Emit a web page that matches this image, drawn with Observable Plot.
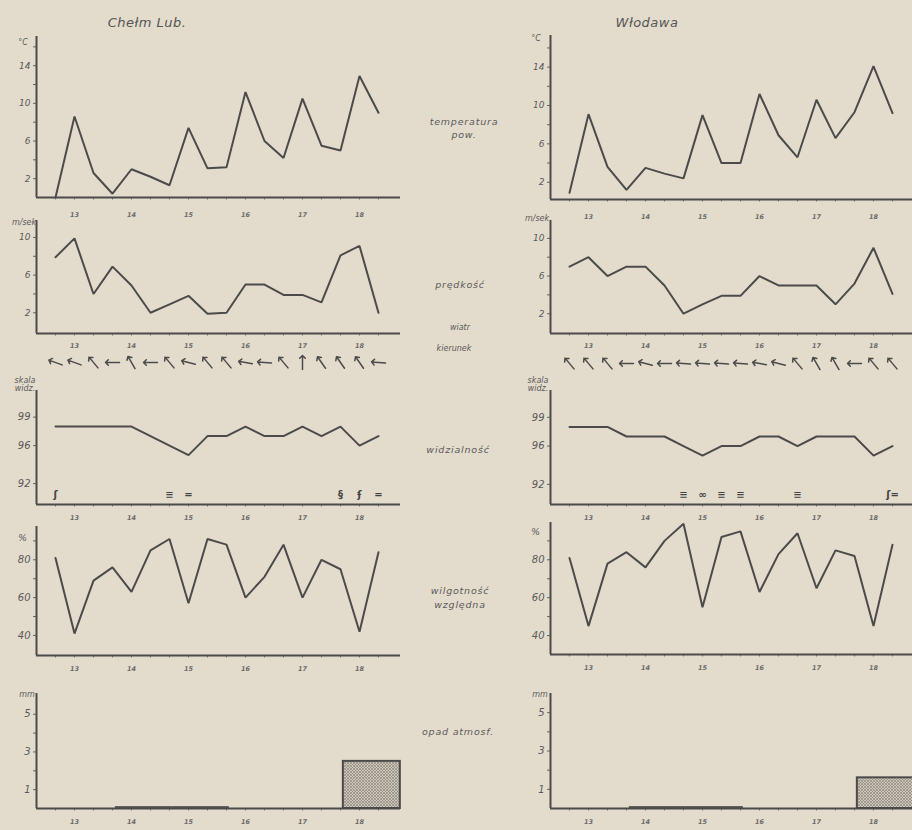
<!DOCTYPE html>
<html><head><meta charset="utf-8">
<script src="https://cdn.jsdelivr.net/npm/d3@7"></script>
<script src="https://cdn.jsdelivr.net/npm/@observablehq/plot@0.6"></script>
<style>
html,body{margin:0;padding:0;background:#e3dccc;overflow:hidden;}
#fig{position:relative;width:912px;height:830px;background:#e3dccc;font-family:"DejaVu Sans",sans-serif;color:#555;overflow:hidden;}
.lbl{position:absolute;font-style:italic;font-size:9.5px;color:#5a5a5a;transform:translate(-50%,-50%);white-space:nowrap;letter-spacing:0.8px;}
.ttl{font-size:13px;letter-spacing:0.5px;color:#555;}
.unit{font-size:8px;letter-spacing:0;}
</style></head><body><div id="fig"></div>
<script>
// ---------------- data ----------------
const days = [13, 14, 15, 16, 17, 18];
// observations 7h, 13h, 21h for each day (18 per station)
const tempChelm   = [0, 8.6, 2.6, 0.4, 3.0, 2.2, 1.3, 7.4, 3.1, 3.2, 11.2, 6.0, 4.2, 10.5, 5.5, 5.0, 12.9, 9.0];
const tempWlodawa = [0.9, 9.1, 3.6, 1.2, 3.5, 2.9, 2.4, 9.0, 4.0, 4.0, 11.2, 6.9, 4.6, 10.6, 6.6, 9.3, 14.1, 9.2];
const windChelm   = [7.9, 9.9, 4.0, 6.9, 4.9, 2.0, 2.9, 3.8, 1.9, 2.0, 5.0, 5.0, 3.9, 3.9, 3.1, 8.1, 9.1, 2.0];
const windWlodawa = [7.0, 8.0, 6.0, 7.0, 7.0, 5.0, 2.0, 3.0, 3.9, 3.9, 6.0, 5.0, 5.0, 5.0, 3.0, 5.2, 9.0, 4.1];
// wind arrow direction (degrees, 0 = arrow pointing up, clockwise)
const dirChelm    = [-70, -70, -40, -90, -30, -90, -40, -75, -40, -40, -80, -85, -40, 0, -35, -35, -35, -85];
const dirWlodawa  = [-40, -40, -40, -90, -75, -90, -85, -85, -85, -85, -80, -75, -40, -30, -30, -90, -40, -40];
const visChelm    = [98, 98, 98, 98, 98, 97, 96, 95, 97, 97, 98, 97, 97, 98, 97, 98, 96, 97];
const visWlodawa  = [98, 98, 98, 97, 97, 97, 96, 95, 96, 96, 97, 97, 96, 97, 97, 97, 95, 96];
const humChelm    = [81, 41, 69, 76, 63, 85, 91, 57, 91, 88, 60, 71, 88, 60, 80, 75, 42, 84];
const humWlodawa  = [81, 45, 78, 84, 76, 90, 99, 55, 92, 95, 63, 83, 94, 65, 85, 82, 45, 88];
const precipDaysChelm = [18];
const precipChelm     = [2.5];
const precipDaysWlodawa = [18];
const precipWlodawa     = [1.6];
const traceDaysChelm   = [14, 15];
const traceDaysWlodawa = [14, 15];
// weather symbols at bottom of visibility panel
const symObsChelm   = [0, 6, 7, 15, 16, 17];
const symChelm      = ["ʃ", "≡", "=", "§", "ʄ", "="];
const symObsWlodawa = [6, 7, 8, 9, 12, 17];
const symWlodawa    = ["≡", "∞", "≡", "≡", "≡", "ʃ="];
// axis ticks
const tempTicks = [2, 6, 10, 14], tempMinor = [4, 8, 12, 16];
const windTicks = [2, 6, 10], windMinor = [4, 8];
const visTicks = [92, 96, 99];
const humTicks = [40, 60, 80], humMinor = [50, 70, 90];
const precipTicks = [1, 3, 5], precipMinor = [2, 4];

// ---------------- helpers ----------------
const fig = document.getElementById("fig");
const INK = "#4b4b4b";
const obsIdx = d3.range(18);
const xDomain = [-1, 18.158];
const dayX = d => (d - 13) * 3 + 1;

function series(values) { return values.map((v, i) => ({i, v})); }

function label(text, x, y, cls = "") {
  const el = document.createElement("div");
  el.className = "lbl " + cls;
  el.textContent = text;
  el.style.left = x + "px";
  el.style.top = y + "px";
  fig.appendChild(el);
}

function panel({left, top, bottom, domain, ticks, minor = [], dayDy = 15, marks = [], mt = 14, mb = 26, tickFont = 9}) {
  const h = mt + (bottom - top) + mb;
  const all = [...ticks, ...minor].sort((a, b) => a - b);
  const svg = Plot.plot({
    width: 400, height: h,
    marginLeft: 36, marginRight: 0, marginTop: mt, marginBottom: mb,
    x: {domain: xDomain},
    y: {domain},
    style: {background: "transparent", overflow: "visible", fontFamily: "DejaVu Sans, sans-serif"},
    marks: [
      ...marks,
      Plot.axisY(all, {tickSize: 3, tickPadding: 3, label: null, stroke: "#666", fill: "#5a5a5a",
        fontSize: tickFont, fontStyle: "italic",
        tickFormat: d => ticks.includes(d) ? String(d) : ""}),
      Plot.axisX(obsIdx, {tickSize: 2.5, tickPadding: 0, label: null, stroke: "#777", tickFormat: () => ""}),
      Plot.ruleX([xDomain[0]], {stroke: INK, strokeWidth: 2}),
      Plot.ruleY([domain[0]], {stroke: INK, strokeWidth: 2}),
      Plot.text(days, {x: dayX, text: d => String(d), frameAnchor: "bottom", dy: dayDy,
        fontSize: 6.5, fill: "#6a6a6a", fontStyle: "italic", fontWeight: "bold"})
    ]
  });
  svg.style.position = "absolute";
  svg.style.left = left + "px";
  svg.style.top = (top - mt) + "px";
  fig.appendChild(svg);
  return svg;
}

function lineMark(values) {
  return Plot.line(series(values), {x: "i", y: "v", stroke: INK, strokeWidth: 2, strokeLinejoin: "miter"});
}

function addHatch(svg, id) {
  const ns = "http://www.w3.org/2000/svg";
  const defs = document.createElementNS(ns, "defs");
  const pat = document.createElementNS(ns, "pattern");
  pat.setAttribute("id", id);
  pat.setAttribute("width", "3");
  pat.setAttribute("height", "3");
  pat.setAttribute("patternUnits", "userSpaceOnUse");
  const r = document.createElementNS(ns, "rect");
  r.setAttribute("width", "3"); r.setAttribute("height", "3"); r.setAttribute("fill", "#cdc7ba");
  const p = document.createElementNS(ns, "path");
  p.setAttribute("d", "M0,0L3,3M3,0L0,3");
  p.setAttribute("stroke", "#8c877d"); p.setAttribute("stroke-width", "0.7");
  pat.appendChild(r); pat.appendChild(p); defs.appendChild(pat);
  svg.insertBefore(defs, svg.firstChild);
}

function arrowRow(left, top, dirs) {
  const svg = Plot.plot({
    width: 400, height: 22, marginLeft: 36, marginRight: 0, marginTop: 0, marginBottom: 0,
    x: {domain: xDomain, axis: null},
    style: {background: "transparent", overflow: "visible"},
    marks: [
      Plot.vector(dirs.map((r, i) => ({i, r})), {x: "i", rotate: "r", length: 14, anchor: "middle",
        frameAnchor: "middle", stroke: INK, strokeWidth: 1.5})
    ]
  });
  svg.style.position = "absolute";
  svg.style.left = left + "px";
  svg.style.top = top + "px";
  fig.appendChild(svg);
}

// ---------------- columns ----------------
const cols = [
  {left: 0, temp: tempChelm, wind: windChelm, dir: dirChelm, vis: visChelm, hum: humChelm,
   pDays: precipDaysChelm, p: precipChelm, tDays: traceDaysChelm, symObs: symObsChelm, sym: symChelm,
   tempLayout: {top: 36, bottom: 197, domain: [0, 17.1]},
   windLayout: {top: 220, bottom: 333, domain: [-0.2, 11.8]},
   visLayout: {top: 390, bottom: 504, domain: [89.8, 101.8]},
   humLayout: {top: 526, bottom: 655, domain: [29.4, 97.6]},
   pLayout: {top: 693, bottom: 808, domain: [0, 6.1]},
   arrowTop: 351, hatch: "hatchL"},
  {left: 514, temp: tempWlodawa, wind: windWlodawa, dir: dirWlodawa, vis: visWlodawa, hum: humWlodawa,
   pDays: precipDaysWlodawa, p: precipWlodawa, tDays: traceDaysWlodawa, symObs: symObsWlodawa, sym: symWlodawa,
   tempLayout: {top: 35, bottom: 199, domain: [0.2, 17.3]},
   windLayout: {top: 220, bottom: 333, domain: [-0.1, 11.9]},
   visLayout: {top: 390, bottom: 504, domain: [89.9, 101.8]},
   humLayout: {top: 522, bottom: 654, domain: [30, 99.7]},
   pLayout: {top: 693, bottom: 808, domain: [0, 6.0]},
   arrowTop: 352, hatch: "hatchR"}
];

for (const c of cols) {
  panel({left: c.left, ...c.tempLayout, ticks: tempTicks, minor: tempMinor, dayDy: 19, marks: [lineMark(c.temp)]});
  panel({left: c.left, ...c.windLayout, ticks: windTicks, minor: windMinor, dayDy: 14, marks: [lineMark(c.wind)]});
  arrowRow(c.left, c.arrowTop, c.dir);
  panel({left: c.left, ...c.visLayout, ticks: visTicks, dayDy: 15, tickFont: 10, marks: [
    lineMark(c.vis),
    Plot.text(c.symObs.map((o, k) => ({o, s: c.sym[k]})), {x: "o", text: "s", frameAnchor: "bottom",
      dy: -7, fontSize: 10, fill: "#444", fontWeight: "bold"})
  ]});
  panel({left: c.left, ...c.humLayout, ticks: humTicks, minor: humMinor, dayDy: 15, tickFont: 10, marks: [lineMark(c.hum)]});
  const ps = panel({left: c.left, ...c.pLayout, ticks: precipTicks, minor: precipMinor, dayDy: 15, tickFont: 10, marks: [
    Plot.rect(c.pDays.map((d, k) => ({d, v: c.p[k]})), {x1: r => (r.d - 13) * 3 + 0.15, x2: r => (r.d - 13) * 3 + 3.15,
      y1: 0, y2: "v", fill: `url(#${c.hatch})`, stroke: INK, strokeWidth: 2}),
    Plot.rect(c.tDays, {x1: d => (d - 13) * 3 + 0.15, x2: d => (d - 13) * 3 + 3.15, y1: 0, y2: 0.1, fill: "#555"})
  ]});
  addHatch(ps, c.hatch);
}

// ---------------- titles & labels ----------------
label("Chełm Lub.", 147, 22, "ttl");
label("Włodawa", 647, 22, "ttl");
label("temperatura", 464, 121);
label("pow.", 464, 134);
label("prędkość", 460, 284);
label("wiatr", 460, 327, "unit");
label("kierunek", 454, 348, "unit");
label("widzialność", 458, 449);
label("wilgotność", 460, 590);
label("względna", 460, 604);
label("opad atmosf.", 458, 731);
// units
for (const [dx, dyT, dyH] of [[0, 0, 0], [513, -4, -6]]) {
  label("°C", 23 + dx, 42 + dyT, "unit");
  label("m/sek", 24 + dx, 222 + dyT, "unit");
  label("skala", 25 + dx, 380, "unit");
  label("widz.", 25 + dx, 388, "unit");
  label("%", 23 + dx, 537 + dyH);
  label("mm", 27 + dx, 694, "unit");
}
</script>
</body></html>
